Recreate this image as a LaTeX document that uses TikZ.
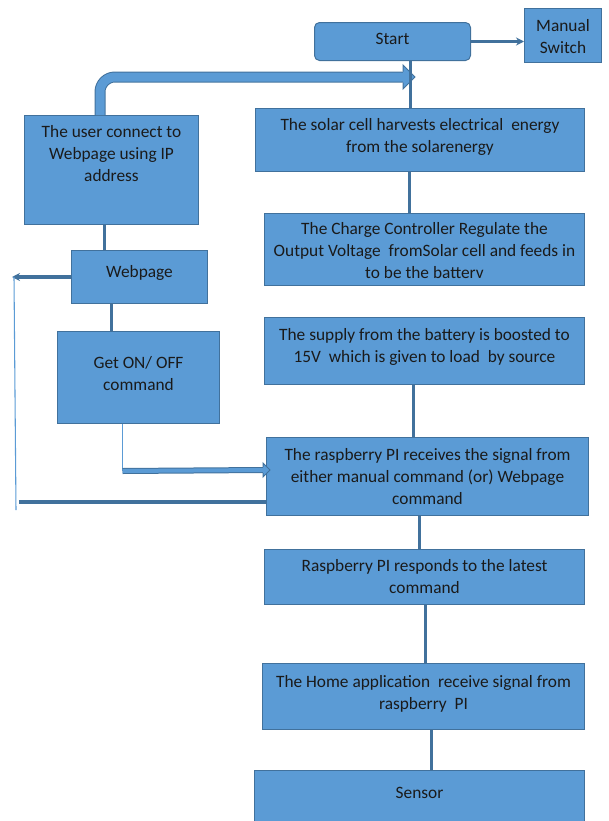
\documentclass[tikz,border=0pt]{standalone}
\usepackage{fontspec}
\setmainfont{Carlito}
\usetikzlibrary{arrows.meta}
\definecolor{boxblue}{HTML}{5B9BD5}
\definecolor{edgeblue}{HTML}{41719C}
\definecolor{txtgray}{HTML}{1A1A1A}
\newdimen\pxu \pxu=0.75pt
\newcommand{\toptext}[4]{\parbox[c][#2\pxu][t]{#1\pxu}{\centering\vspace*{#3\pxu}\strut #4}}
\tikzset{
  box/.style={draw=edgeblue, fill=boxblue, line width=0.75pt, inner sep=0pt,
    anchor=north west, text=txtgray, font=\fontsize{13}{16.5}\selectfont},
  link/.style={draw=edgeblue, line width=2.4pt},
  thinlink/.style={draw=boxblue, line width=0.8pt},
  blockbody/.style={draw=edgeblue, line width=0.75pt, double=boxblue},
  blockhead/.style={fill=boxblue, draw=edgeblue, line width=0.75pt, line join=miter}
}
\begin{document}
\begin{tikzpicture}[x=0.75pt, y=-0.75pt, >={Stealth[length=6pt,width=6pt]}]
  \useasboundingbox (0,0) rectangle (608,821);

  \node[box, rounded corners=5\pxu] (start) at (314,22) {\toptext{156}{38}{7}{Start}};
  \node[box] (manual) at (524,8) {\toptext{77}{54}{8}{Manual\\Switch}};
  \node[box] (user) at (24,115) {\toptext{174}{109}{7}{The user connect to\\Webpage using IP\\address}};
  \node[box] (web) at (71,250) {\toptext{136}{53}{12}{Webpage}};
  \node[box] (cmd) at (57,331) {\toptext{162}{92}{22}{Get ON/ OFF\\command}};
  \node[box] (solar) at (255,108) {\toptext{329}{63}{7}{The solar cell harvests electrical\ \ energy\\from the solarenergy}};
  \node[box] (charge) at (264,213) {\toptext{320}{72}{6}{The Charge Controller Regulate the\\Output Voltage\ \ fromSolar cell and feeds in\\to be the batterv}};
  \node[box] (supply) at (264,317) {\toptext{320}{67}{8}{The supply from the battery is boosted to\\15V\ \ which is given to load\ \ by source}};
  \node[box] (rpi) at (266,437) {\toptext{322}{78}{8}{The raspberry PI receives the signal from\\either manual command (or) Webpage\\command}};
  \node[box] (resp) at (264,549) {\toptext{320}{55}{7}{Raspberry PI responds to the latest\\command}};
  \node[box] (home) at (262,663) {\toptext{322}{66}{9}{The Home application\ \ receive signal from\\raspberry\ \ PI}};
  \node[box] (sensor) at (254,770) {\toptext{330}{60}{13}{Sensor}};

  \coordinate (h1) at (403,77);
  \draw[blockbody, double distance=6.75pt, rounded corners=15\pxu] (user.north) ++(-11.5,0) |- (h1);
  \filldraw[blockhead] (h1) ++(0,-5.5) -- ++(0,-6.5) -- ++(12,12) -- ++(-12,12) -- ++(0,-6.5);

  \draw[link, ->] (start.east) -- (start.east -| manual.west);
  \draw[link] (start.south) ++(18,0) coordinate (a1) -- (a1 |- solar.north);
  \draw[link] (solar.south) ++(-10.5,0) coordinate (a2) -- (a2 |- charge.north);
  \draw[link] (supply.south) ++(-11,0) coordinate (a3) -- (a3 |- rpi.north);
  \draw[link] (rpi.south) ++(-8,0) coordinate (a4) -- (a4 |- resp.north);
  \draw[link] (resp.south) ++(1,0) coordinate (a5) -- (a5 |- home.north);
  \draw[link] (home.south) ++(8,0) coordinate (a6) -- (a6 |- sensor.north);
  \draw[link] (user.south) ++(-7,0) coordinate (a7) -- (a7 |- web.north);
  \draw[link] (web.south) ++(-28,0) coordinate (a8) -- (a8 |- cmd.north);

  \coordinate (w1) at (12,277);
  \coordinate (w2) at (16,510);
  \coordinate (w3) at (19,502);
  \draw[link, ->] (web.west) -- (web.west -| w1);
  \draw[thinlink] (14,277) -- (w2);
  \draw[link] (w3) -- (w3 -| rpi.west);

  \draw[thinlink] (cmd.south) ++(-16,0) coordinate (c1) -- ++(0,47) coordinate (c2);
  \coordinate (h2) at (263,470);
  \draw[blockbody, double distance=3pt] (c2) -- (h2);
  \filldraw[blockhead] (h2) ++(0,-3) -- ++(0,-4) -- ++(7,7) -- ++(-7,7) -- ++(0,-4);
\end{tikzpicture}
\end{document}
